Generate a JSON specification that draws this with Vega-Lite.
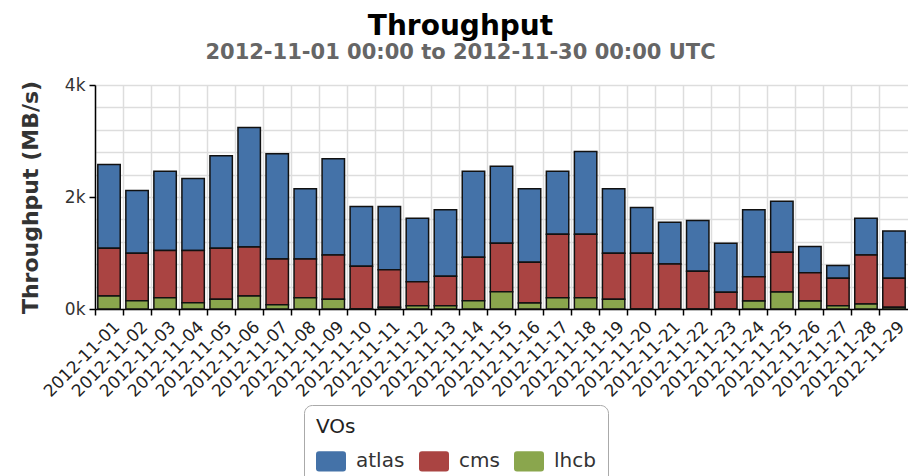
{
  "$schema": "https://vega.github.io/schema/vega-lite/v6.json",
  "autosize": {"type": "none"},
  "padding": {"left": 95, "top": 85, "right": 0, "bottom": 167},
  "width": 813,
  "height": 224,
  "title": {
    "text": "Throughput",
    "subtitle": "2012-11-01 00:00 to 2012-11-30 00:00 UTC",
    "font": "DejaVu Sans",
    "fontSize": 28,
    "fontWeight": "bold",
    "color": "#000000",
    "subtitleFont": "DejaVu Sans",
    "subtitleFontSize": 21,
    "subtitleFontWeight": "bold",
    "subtitleColor": "#666666",
    "anchor": "middle",
    "dx": -41,
    "offset": 13,
    "subtitlePadding": 1
  },
  "config": {"font": "DejaVu Sans", "view": {"stroke": null}},
  "data": {
    "values": [
      {"date": "2012-11-01", "vo": "atlas", "value": 1497}, {"date": "2012-11-01", "vo": "cms", "value": 852}, {"date": "2012-11-01", "vo": "lhcb", "value": 232},
      {"date": "2012-11-02", "vo": "atlas", "value": 1121}, {"date": "2012-11-02", "vo": "cms", "value": 847}, {"date": "2012-11-02", "vo": "lhcb", "value": 148},
      {"date": "2012-11-03", "vo": "atlas", "value": 1419}, {"date": "2012-11-03", "vo": "cms", "value": 841}, {"date": "2012-11-03", "vo": "lhcb", "value": 202},
      {"date": "2012-11-04", "vo": "atlas", "value": 1288}, {"date": "2012-11-04", "vo": "cms", "value": 930}, {"date": "2012-11-04", "vo": "lhcb", "value": 113},
      {"date": "2012-11-05", "vo": "atlas", "value": 1653}, {"date": "2012-11-05", "vo": "cms", "value": 912}, {"date": "2012-11-05", "vo": "lhcb", "value": 172},
      {"date": "2012-11-06", "vo": "atlas", "value": 2134}, {"date": "2012-11-06", "vo": "cms", "value": 877}, {"date": "2012-11-06", "vo": "lhcb", "value": 232},
      {"date": "2012-11-07", "vo": "atlas", "value": 1879}, {"date": "2012-11-07", "vo": "cms", "value": 817}, {"date": "2012-11-07", "vo": "lhcb", "value": 77},
      {"date": "2012-11-08", "vo": "atlas", "value": 1253}, {"date": "2012-11-08", "vo": "cms", "value": 692}, {"date": "2012-11-08", "vo": "lhcb", "value": 202},
      {"date": "2012-11-09", "vo": "atlas", "value": 1717}, {"date": "2012-11-09", "vo": "cms", "value": 794}, {"date": "2012-11-09", "vo": "lhcb", "value": 172},
      {"date": "2012-11-10", "vo": "atlas", "value": 1068}, {"date": "2012-11-10", "vo": "cms", "value": 757}, {"date": "2012-11-10", "vo": "lhcb", "value": 5},
      {"date": "2012-11-11", "vo": "atlas", "value": 1127}, {"date": "2012-11-11", "vo": "cms", "value": 673}, {"date": "2012-11-11", "vo": "lhcb", "value": 30},
      {"date": "2012-11-12", "vo": "atlas", "value": 1133}, {"date": "2012-11-12", "vo": "cms", "value": 428}, {"date": "2012-11-12", "vo": "lhcb", "value": 60},
      {"date": "2012-11-13", "vo": "atlas", "value": 1188}, {"date": "2012-11-13", "vo": "cms", "value": 523}, {"date": "2012-11-13", "vo": "lhcb", "value": 60},
      {"date": "2012-11-14", "vo": "atlas", "value": 1539}, {"date": "2012-11-14", "vo": "cms", "value": 775}, {"date": "2012-11-14", "vo": "lhcb", "value": 148},
      {"date": "2012-11-15", "vo": "atlas", "value": 1377}, {"date": "2012-11-15", "vo": "cms", "value": 865}, {"date": "2012-11-15", "vo": "lhcb", "value": 309},
      {"date": "2012-11-16", "vo": "atlas", "value": 1313}, {"date": "2012-11-16", "vo": "cms", "value": 727}, {"date": "2012-11-16", "vo": "lhcb", "value": 107},
      {"date": "2012-11-17", "vo": "atlas", "value": 1127}, {"date": "2012-11-17", "vo": "cms", "value": 1133}, {"date": "2012-11-17", "vo": "lhcb", "value": 202},
      {"date": "2012-11-18", "vo": "atlas", "value": 1479}, {"date": "2012-11-18", "vo": "cms", "value": 1133}, {"date": "2012-11-18", "vo": "lhcb", "value": 202},
      {"date": "2012-11-19", "vo": "atlas", "value": 1152}, {"date": "2012-11-19", "vo": "cms", "value": 823}, {"date": "2012-11-19", "vo": "lhcb", "value": 172},
      {"date": "2012-11-20", "vo": "atlas", "value": 817}, {"date": "2012-11-20", "vo": "cms", "value": 995}, {"date": "2012-11-20", "vo": "lhcb", "value": 0},
      {"date": "2012-11-21", "vo": "atlas", "value": 744}, {"date": "2012-11-21", "vo": "cms", "value": 805}, {"date": "2012-11-21", "vo": "lhcb", "value": 0},
      {"date": "2012-11-22", "vo": "atlas", "value": 907}, {"date": "2012-11-22", "vo": "cms", "value": 673}, {"date": "2012-11-22", "vo": "lhcb", "value": 0},
      {"date": "2012-11-23", "vo": "atlas", "value": 877}, {"date": "2012-11-23", "vo": "cms", "value": 297}, {"date": "2012-11-23", "vo": "lhcb", "value": 0},
      {"date": "2012-11-24", "vo": "atlas", "value": 1194}, {"date": "2012-11-24", "vo": "cms", "value": 434}, {"date": "2012-11-24", "vo": "lhcb", "value": 143},
      {"date": "2012-11-25", "vo": "atlas", "value": 912}, {"date": "2012-11-25", "vo": "cms", "value": 709}, {"date": "2012-11-25", "vo": "lhcb", "value": 304},
      {"date": "2012-11-26", "vo": "atlas", "value": 466}, {"date": "2012-11-26", "vo": "cms", "value": 506}, {"date": "2012-11-26", "vo": "lhcb", "value": 143},
      {"date": "2012-11-27", "vo": "atlas", "value": 227}, {"date": "2012-11-27", "vo": "cms", "value": 488}, {"date": "2012-11-27", "vo": "lhcb", "value": 60},
      {"date": "2012-11-28", "vo": "atlas", "value": 655}, {"date": "2012-11-28", "vo": "cms", "value": 876}, {"date": "2012-11-28", "vo": "lhcb", "value": 90},
      {"date": "2012-11-29", "vo": "atlas", "value": 847}, {"date": "2012-11-29", "vo": "cms", "value": 518}, {"date": "2012-11-29", "vo": "lhcb", "value": 30}
    ]
  },
  "mark": {"type": "bar", "stroke": "#111111", "strokeWidth": 1.5, "width": {"band": 0.8}},
  "encoding": {
    "x": {
      "field": "date",
      "type": "ordinal",
      "scale": {"paddingInner": 0, "paddingOuter": 0},
      "axis": {
        "title": null,
        "labelAngle": -45,
        "labelAlign": "right",
        "labelBaseline": "middle",
        "labelFontSize": 17,
        "labelColor": "#222222",
        "labelPadding": 9,
        "labelOffset": 8,
        "bandPosition": 0,
        "grid": true,
        "gridColor": "#dddddd",
        "gridWidth": 1.5,
        "tickColor": "#000000",
        "tickSize": 6,
        "tickWidth": 1.5,
        "domainColor": "#000000",
        "domainWidth": 1.5
      }
    },
    "y": {
      "field": "value",
      "type": "quantitative",
      "stack": "zero",
      "scale": {"domain": [0, 4000], "nice": false},
      "axis": {
        "title": "Throughput (MB/s)",
        "titleFontSize": 22,
        "titleFontWeight": "bold",
        "titleColor": "#333333",
        "titlePadding": 22,
        "values": [0, 400, 800, 1200, 1600, 2000, 2400, 2800, 3200, 3600, 4000],
        "labelExpr": "datum.value % 2000 === 0 ? (datum.value / 1000) + 'k' : ''",
        "labelFontSize": 17,
        "labelColor": "#333333",
        "labelPadding": 4,
        "gridColor": "#dddddd",
        "gridWidth": 1.5,
        "domainColor": "#000000",
        "domainWidth": 1.5,
        "tickColor": "#000000",
        "tickWidth": 1.5,
        "tickSize": 6,
        "tickOpacity": {"condition": {"test": "datum.value % 2000 === 0", "value": 1}, "value": 0}
      }
    },
    "color": {
      "field": "vo",
      "type": "nominal",
      "scale": {"domain": ["atlas", "cms", "lhcb"], "range": ["#4472A8", "#AA4442", "#8AA64D"]},
      "legend": {
        "title": "VOs",
        "orient": "none",
        "legendX": 209,
        "legendY": 320,
        "direction": "horizontal",
        "titleFontSize": 20,
        "titleFontWeight": "normal",
        "titleColor": "#222222",
        "titlePadding": 9,
        "labelFontSize": 20,
        "labelColor": "#333333",
        "labelOffset": 10,
        "columnPadding": 14,
        "strokeColor": "#aaaaaa",
        "cornerRadius": 8,
        "padding": 12,
        "symbolType": "M-0.8,-0.68H0.8Q1,-0.68 1,-0.48V0.48Q1,0.68 0.8,0.68H-0.8Q-1,0.68 -1,0.48V-0.48Q-1,-0.68 -0.8,-0.68Z",
        "symbolSize": 900,
        "symbolStrokeWidth": 0,
        "symbolOpacity": 1
      }
    },
    "order": {"field": "vo", "sort": "descending"}
  }
}
